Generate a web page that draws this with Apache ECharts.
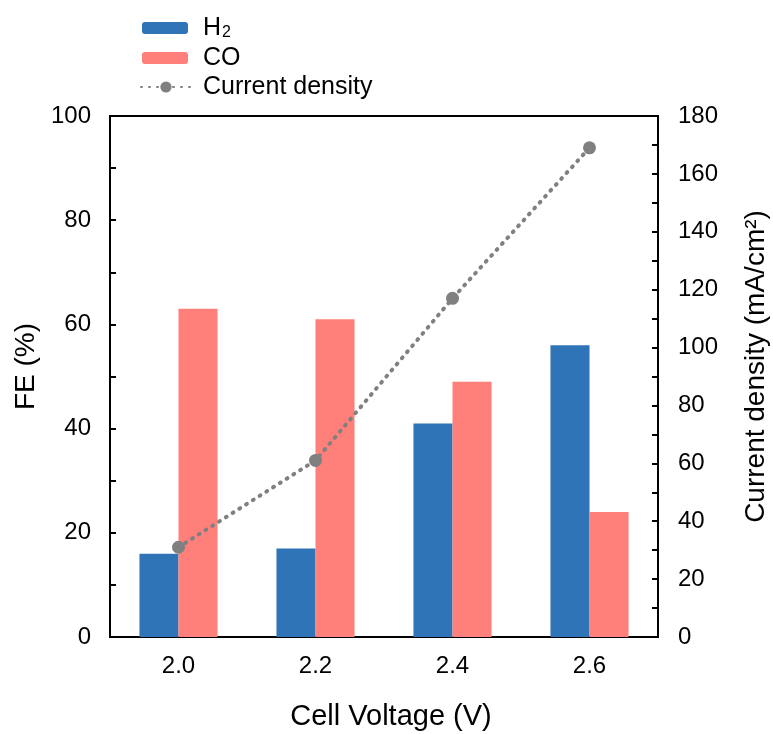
<!DOCTYPE html>
<html><head><meta charset="utf-8">
<script src="https://cdn.jsdelivr.net/npm/echarts@6/dist/echarts.min.js"></script>
<style>html,body{margin:0;padding:0;background:#fff}#c{width:773px;height:734px}</style>
</head><body><div id="c"></div>
<script>
const categories = ['2.0', '2.2', '2.4', '2.6'];
const h2FE = [16, 17, 41, 56];
const coFE = [63, 61, 49, 24];
const currentDensity = [31, 61, 117, 169];
const leftTicks = {min: 0, max: 100, interval: 20};
const rightTicks = {min: 0, max: 180, interval: 20};

const FONT = '"Liberation Sans", Arial, Helvetica, sans-serif';
const chart = echarts.init(document.getElementById('c'), null, {renderer: 'canvas'});
const dotted = {type: [1, 7], width: 4, cap: 'round', color: '#808080'};
const legendText = {fontFamily: FONT, fontSize: 25, color: '#000', lineHeight: 26, padding: [0, 0, 0, 10]};
const legendBase = {orient: 'vertical', left: 137, itemWidth: 46, itemHeight: 12};
chart.setOption({
  animation: false,
  legend: [
    Object.assign({}, legendBase, {top: 8, data: ['H2'], formatter: () => '{m|H}{s|2}',
      textStyle: Object.assign({}, legendText, {rich: {
        m: {fontFamily: FONT, fontSize: 25, color: '#000', lineHeight: 26},
        s: {fontFamily: FONT, fontSize: 16, color: '#000', verticalAlign: 'bottom', lineHeight: 16, padding: [12, 0, 0, 1]}}})}),
    Object.assign({}, legendBase, {top: 40, data: ['CO'], textStyle: legendText}),
    Object.assign({}, legendBase, {top: 69, left: 135, data: ['Current density'], itemWidth: 50, itemHeight: 14,
      textStyle: Object.assign({}, legendText, {padding: [0, 0, 0, 7]})})
  ],
  grid: {left: 110, right: 115, top: 116, bottom: 97, show: true, borderColor: '#000', borderWidth: 2,
    outerBoundsMode: 'none', containLabel: false},
  xAxis: {
    type: 'category', data: categories,
    name: 'Cell Voltage (V)', nameLocation: 'middle', nameGap: 65,
    nameTextStyle: {fontFamily: FONT, fontSize: 29, color: '#000', padding: [0, 0, 0, 14]},
    axisLine: {lineStyle: {color: '#000', width: 2}},
    axisTick: {show: false},
    axisLabel: {fontFamily: FONT, fontSize: 24, color: '#000', margin: 17}
  },
  yAxis: [
    {type: 'value', min: leftTicks.min, max: leftTicks.max, interval: leftTicks.interval,
      name: 'FE (%)', nameLocation: 'middle', nameGap: 67,
      nameTextStyle: {fontFamily: FONT, fontSize: 28, color: '#000', padding: [0, 0, 0, 20]},
      axisLine: {show: true, lineStyle: {color: '#000', width: 2}},
      axisTick: {show: true, inside: true, length: 6, lineStyle: {color: '#000', width: 2}},
      minorTick: {show: true, splitNumber: 2, length: 6, lineStyle: {color: '#000', width: 2}},
      splitLine: {show: false},
      axisLabel: {fontFamily: FONT, fontSize: 24, color: '#000', margin: 19}},
    {type: 'value', min: rightTicks.min, max: rightTicks.max, interval: rightTicks.interval,
      position: 'right',
      name: 'Current density (mA/cm²)', nameLocation: 'middle', nameGap: 84, nameRotate: 90,
      nameTextStyle: {fontFamily: FONT, fontSize: 28, color: '#000', padding: [0, 0, 0, 20]},
      axisLine: {show: true, lineStyle: {color: '#000', width: 2}},
      axisTick: {show: true, inside: true, length: 6, lineStyle: {color: '#000', width: 2}},
      minorTick: {show: true, splitNumber: 2, length: 6, lineStyle: {color: '#000', width: 2}},
      splitLine: {show: false},
      axisLabel: {fontFamily: FONT, fontSize: 24, color: '#000', margin: 20}}
  ],
  series: [
    {name: 'H2', type: 'bar', data: h2FE, barWidth: '28.5%', barGap: '0%',
      itemStyle: {color: '#2E74B6'}},
    {name: 'CO', type: 'bar', data: coFE, barWidth: '28.5%', barGap: '0%',
      itemStyle: {color: '#FF7F7A'}},
    {name: 'Current density', type: 'line', yAxisIndex: 1, data: currentDensity,
      symbol: 'circle', symbolSize: 13, itemStyle: {color: '#808080'},
      lineStyle: dotted, z: 5}
  ]
});
</script></body></html>
